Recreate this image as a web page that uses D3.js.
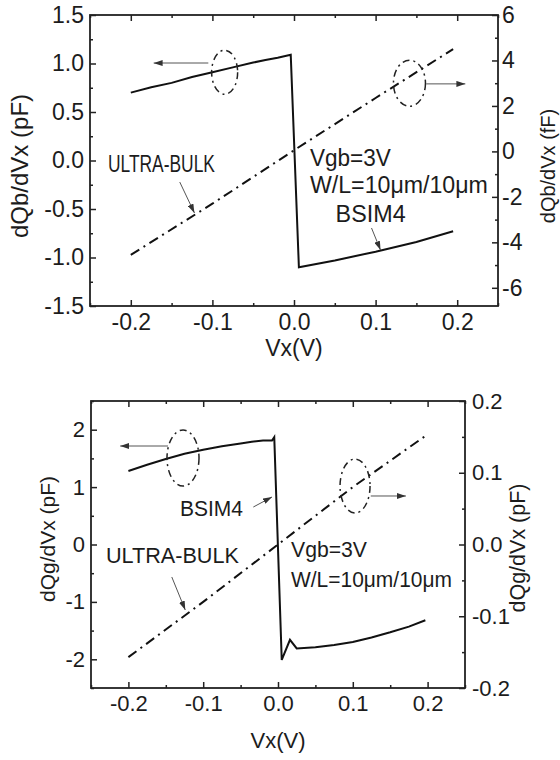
<!DOCTYPE html>
<html>
<head>
<meta charset="utf-8">
<script src="https://cdn.jsdelivr.net/npm/d3@7"></script>
<style>
  body { margin: 0; background: #fff; }
  svg text { font-family: "Liberation Sans", Arial, sans-serif; fill: #1c1c1c; }
</style>
</head>
<body>
<svg id="chart" width="560" height="760"></svg>
<script>
// shared x ticks
const xTickVals = [-0.2, -0.1, 0.0, 0.1, 0.2];
const xMinorVals = [-0.25, -0.15, -0.05, 0.05, 0.15, 0.25];

// upper panel: dQb/dVx
const qbBsimX = [-0.2, -0.175, -0.15, -0.125, -0.1, -0.075, -0.05, -0.035, -0.02, -0.004,
                 0.006, 0.05, 0.1, 0.15, 0.195];
const qbBsimY = [0.70, 0.755, 0.80, 0.86, 0.91, 0.96, 1.01, 1.035, 1.06, 1.09,
                 -1.10, -1.03, -0.94, -0.84, -0.73];
const qbUltraX = [-0.2, -0.1, 0.0, 0.1, 0.195];
const qbUltraY = [-4.55, -2.3, 0.05, 2.35, 4.5];   // fF, right axis
const qbLeftTicks = [-1.5, -1.0, -0.5, 0.0, 0.5, 1.0, 1.5];
const qbLeftMinor = [-1.25, -0.75, -0.25, 0.25, 0.75, 1.25];
const qbRightTicks = [-6, -4, -2, 0, 2, 4, 6];
const qbRightMinor = [-5, -3, -1, 1, 3, 5];

// lower panel: dQg/dVx
const qgBsimX = [-0.2, -0.175, -0.15, -0.125, -0.1, -0.075, -0.05, -0.035, -0.02, -0.008, -0.005,
                 0.005, 0.016, 0.025, 0.05, 0.075, 0.1, 0.125, 0.15, 0.175, 0.197];
const qgBsimY = [1.28, 1.39, 1.49, 1.58, 1.65, 1.71, 1.76, 1.79, 1.81, 1.81, 1.87,
                 -2.01, -1.66, -1.81, -1.79, -1.75, -1.70, -1.62, -1.53, -1.43, -1.32];
const qgUltraX = [-0.2, -0.1, 0.0, 0.1, 0.198];
const qgUltraY = [-0.157, -0.08, 0.0, 0.08, 0.152];   // pF, right axis
const qgLeftTicks = [-2, -1, 0, 1, 2];
const qgLeftMinor = [-2.5, -1.5, -0.5, 0.5, 1.5, 2.5];
const qgRightTicks = [-0.2, -0.1, 0.0, 0.1, 0.2];
const qgRightMinor = [-0.15, -0.05, 0.05, 0.15];

const svg = d3.select("#chart");

const defs = svg.append("defs");
defs.append("marker")
    .attr("id", "arrow")
    .attr("markerUnits", "userSpaceOnUse")
    .attr("markerWidth", 9)
    .attr("markerHeight", 6)
    .attr("refX", 9)
    .attr("refY", 3)
    .attr("orient", "auto")
  .append("path")
    .attr("d", "M0,0L9,3L0,6Z")
    .attr("fill", "#333");

const fmt1 = d => (Math.abs(d) < 1e-9 ? 0 : d).toFixed(1);
const fmt0 = d => String(d);

function drawPanel(p) {
    const x = d3.scaleLinear().domain([-0.25, 0.25]).range([p.left, p.right]);
    const yL = d3.scaleLinear().domain(p.yLDomain).range([p.bottom, p.top]);
    const yR = d3.scaleLinear().domain(p.yRDomain).range([p.bottom, p.top]);

    const g = svg.append("g");

    function styleAxis(ax) {
        ax.select(".domain").remove();
        ax.selectAll(".tick line").attr("stroke", "#222").attr("stroke-width", 1.5);
        ax.selectAll(".tick text").attr("font-size", p.tickSize).attr("fill", "#1c1c1c")
          .attr("font-family", '"Liberation Sans", Arial, sans-serif');
    }

    // bottom
    let ax = g.append("g").attr("transform", "translate(0," + p.bottom + ")")
        .call(d3.axisBottom(x).tickValues(xTickVals).tickSize(-6).tickPadding(p.xPad).tickFormat(fmt1));
    styleAxis(ax);
    ax = g.append("g").attr("transform", "translate(0," + p.bottom + ")")
        .call(d3.axisBottom(x).tickValues(xMinorVals).tickSize(-3).tickFormat(""));
    styleAxis(ax);
    // top
    ax = g.append("g").attr("transform", "translate(0," + p.top + ")")
        .call(d3.axisTop(x).tickValues(xTickVals).tickSize(-6).tickFormat(""));
    styleAxis(ax);
    ax = g.append("g").attr("transform", "translate(0," + p.top + ")")
        .call(d3.axisTop(x).tickValues(xMinorVals).tickSize(-3).tickFormat(""));
    styleAxis(ax);
    // left
    ax = g.append("g").attr("transform", "translate(" + p.left + ",0)")
        .call(d3.axisLeft(yL).tickValues(p.yLTicks).tickSize(-6).tickPadding(6).tickFormat(p.yLFmt));
    styleAxis(ax);
    ax = g.append("g").attr("transform", "translate(" + p.left + ",0)")
        .call(d3.axisLeft(yL).tickValues(p.yLMinor).tickSize(-3).tickFormat(""));
    styleAxis(ax);
    // right
    ax = g.append("g").attr("transform", "translate(" + p.right + ",0)")
        .call(d3.axisRight(yR).tickValues(p.yRTicks).tickSize(-6).tickPadding(p.rPad).tickFormat(p.yRFmt));
    styleAxis(ax);
    ax = g.append("g").attr("transform", "translate(" + p.right + ",0)")
        .call(d3.axisRight(yR).tickValues(p.yRMinor).tickSize(-3).tickFormat(""));
    styleAxis(ax);

    // frame
    g.append("rect")
        .attr("x", p.left).attr("y", p.top)
        .attr("width", p.right - p.left).attr("height", p.bottom - p.top)
        .attr("fill", "none").attr("stroke", "#222").attr("stroke-width", 1.8);

    // curves
    const bsim = d3.zip(p.bsimX, p.bsimY);
    g.append("path")
        .datum(bsim)
        .attr("d", d3.line().x(d => x(d[0])).y(d => yL(d[1])))
        .attr("fill", "none").attr("stroke", "#111").attr("stroke-width", 2)
        .attr("stroke-linejoin", "miter");

    const ultra = d3.zip(p.ultraX, p.ultraY);
    g.append("path")
        .datum(ultra)
        .attr("d", d3.line().x(d => x(d[0])).y(d => yR(d[1])))
        .attr("fill", "none").attr("stroke", "#111").attr("stroke-width", 2)
        .attr("stroke-dasharray", "10,5,2,5");

    // axis titles
    g.append("text")
        .attr("transform", "translate(" + p.lTitle[0] + "," + p.lTitle[1] + ") rotate(-90)")
        .attr("text-anchor", "middle").attr("font-size", p.lTitle[2])
        .text(p.lTitleText);
    g.append("text")
        .attr("transform", "translate(" + p.rTitle[0] + "," + p.rTitle[1] + ") rotate(-90)")
        .attr("text-anchor", "middle").attr("font-size", p.rTitle[2])
        .text(p.rTitleText);
    g.append("text")
        .attr("x", x(0)).attr("y", p.xTitleY)
        .attr("text-anchor", "middle").attr("font-size", p.xTitleSize)
        .text("Vx(V)");

    // annotations (positions given in data units)
    p.ellipses.forEach(e => {
        const ys = e.axis === "L" ? yL : yR;
        g.append("ellipse")
            .attr("cx", x(e.x)).attr("cy", ys(e.y))
            .attr("rx", e.rx).attr("ry", e.ry)
            .attr("fill", "none").attr("stroke", "#222").attr("stroke-width", 1.5)
            .attr("stroke-dasharray", "7,4,2,4");
    });
    p.arrows.forEach(a => {
        const ys = a.axis === "L" ? yL : yR;
        g.append("line")
            .attr("x1", x(a.x1)).attr("y1", ys(a.y1))
            .attr("x2", x(a.x2)).attr("y2", ys(a.y2))
            .attr("stroke", "#555").attr("stroke-width", 1)
            .attr("marker-end", "url(#arrow)");
    });
    p.labels.forEach(l => {
        g.append("text")
            .attr("x", x(l.x)).attr("y", yL(l.y))
            .attr("font-size", l.fs)
            .attr("textLength", l.w).attr("lengthAdjust", "spacingAndGlyphs")
            .text(l.text);
    });
}

drawPanel({
    left: 90, right: 498, top: 15, bottom: 306,
    yLDomain: [-1.5, 1.5], yRDomain: [-6.8, 6],
    yLTicks: qbLeftTicks, yLMinor: qbLeftMinor, yLFmt: fmt1,
    yRTicks: qbRightTicks, yRMinor: qbRightMinor, yRFmt: fmt0,
    tickSize: 23, xPad: 8, rPad: 4,
    bsimX: qbBsimX, bsimY: qbBsimY, ultraX: qbUltraX, ultraY: qbUltraY,
    lTitle: [28, 166, 24], lTitleText: "dQb/dVx (pF)",
    rTitle: [555, 166, 20], rTitleText: "dQb/dVx (fF)",
    xTitleY: 356, xTitleSize: 23,
    ellipses: [
        { axis: "L", x: -0.085, y: 0.91, rx: 13, ry: 22 },
        { axis: "R", x: 0.1415, y: 3.0, rx: 16, ry: 23 }
    ],
    arrows: [
        { axis: "L", x1: -0.105, y1: 1.005, x2: -0.172, y2: 1.005 },
        { axis: "R", x1: 0.162, y1: 2.97, x2: 0.21, y2: 2.97 },
        { axis: "L", x1: -0.140, y1: -0.222, x2: -0.122, y2: -0.541 },
        { axis: "L", x1: 0.095, y1: -0.696, x2: 0.106, y2: -0.923 }
    ],
    labels: [
        { text: "ULTRA-BULK", x: -0.228, y: -0.12, w: 107, fs: 23 },
        { text: "Vgb=3V", x: 0.0195, y: -0.057, w: 81, fs: 23 },
        { text: "W/L=10μm/10μm", x: 0.0195, y: -0.335, w: 178, fs: 23 },
        { text: "BSIM4", x: 0.051, y: -0.634, w: 70, fs: 23 }
    ]
});

drawPanel({
    left: 91, right: 465, top: 401, bottom: 688,
    yLDomain: [-2.5, 2.5], yRDomain: [-0.2, 0.2],
    yLTicks: qgLeftTicks, yLMinor: qgLeftMinor, yLFmt: fmt0,
    yRTicks: qgRightTicks, yRMinor: qgRightMinor, yRFmt: fmt1,
    tickSize: 22, xPad: 7, rPad: 7,
    bsimX: qgBsimX, bsimY: qgBsimY, ultraX: qgUltraX, ultraY: qgUltraY,
    lTitle: [55, 539, 21], lTitleText: "dQg/dVx (pF)",
    rTitle: [525, 548, 21.5], rTitleText: "dQg/dVx (pF)",
    xTitleY: 748, xTitleSize: 22,
    ellipses: [
        { axis: "L", x: -0.127, y: 1.507, rx: 16, ry: 28 },
        { axis: "R", x: 0.103, y: 0.0815, rx: 15, ry: 27 }
    ],
    arrows: [
        { axis: "L", x1: -0.147, y1: 1.716, x2: -0.211, y2: 1.716 },
        { axis: "R", x1: 0.124, y1: 0.0676, x2: 0.171, y2: 0.0676 },
        { axis: "L", x1: -0.033, y1: 0.653, x2: -0.008, y2: 0.828 },
        { axis: "L", x1: -0.142, y1: -0.566, x2: -0.124, y2: -1.141 }
    ],
    labels: [
        { text: "BSIM4", x: -0.131, y: 0.497, w: 63, fs: 22 },
        { text: "ULTRA-BULK", x: -0.23, y: -0.322, w: 133, fs: 22 },
        { text: "Vgb=3V", x: 0.0174, y: -0.218, w: 76, fs: 22 },
        { text: "W/L=10μm/10μm", x: 0.0174, y: -0.74, w: 161, fs: 22 }
    ]
});
</script>
</body>
</html>
